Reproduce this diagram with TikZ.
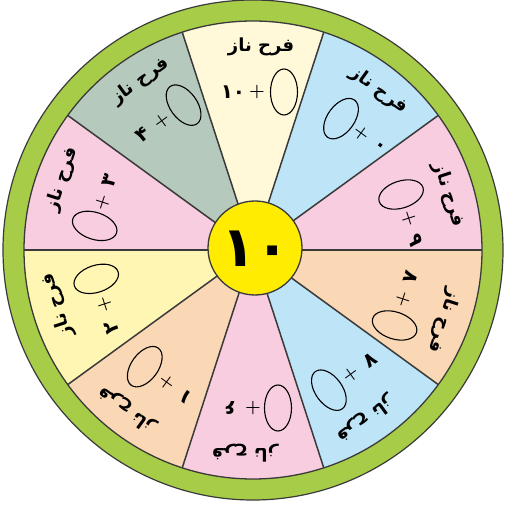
\documentclass[tikz,border=0pt]{standalone}
\usepackage{fontspec}
\usetikzlibrary{shapes.geometric}
\newfontfamily\arabicfont[Script=Arabic]{DejaVu Sans}
\TeXXeTstate=1
\definecolor{rimgreen}{HTML}{A7CD48}
\definecolor{cream}{HTML}{FFF9D9}
\definecolor{skyb}{HTML}{BEE4F8}
\definecolor{pinkc}{HTML}{F8CDE0}
\definecolor{peach}{HTML}{FBD8B5}
\definecolor{yellowp}{HTML}{FFF6B3}
\definecolor{grayg}{HTML}{B6C9BD}
\definecolor{hubyellow}{HTML}{FFEC00}
\definecolor{linegray}{HTML}{3A3A3A}
\tikzset{
  divider/.style={draw=linegray, line width=1.5pt},
  nametext/.style={font=\arabicfont\bfseries\fontsize{18}{18}\selectfont, inner sep=0pt},
  digittext/.style={font=\arabicfont\bfseries\fontsize{20}{20}\selectfont, inner sep=0pt},
  plustext/.style={font=\bfseries\fontsize{18}{18}\selectfont, inner sep=0pt},
  oval/.style={ellipse, draw=black, line width=1.1pt, minimum width=27pt, minimum height=46pt, inner sep=0pt},
}
\begin{document}
\begin{tikzpicture}[x=1pt,y=1pt]
\useasboundingbox (-253,-255) rectangle (252,250);
\fill[white] (-253,-255) rectangle (252,250);
% rim
\draw[fill=rimgreen, draw=linegray, line width=1.2pt] (0,0) circle (250);
% sectors
\foreach \a/\col in {90/cream,54/skyb,18/pinkc,-18/peach,-54/skyb,-90/pinkc,-126/peach,-162/yellowp,162/pinkc,126/grayg}{
  \fill[\col] (0,0) -- (\a-18:229) arc[start angle=\a-18, end angle=\a+18, radius=229] -- cycle;
}
\foreach \b in {0,36,...,324}{
  \coordinate (rimpt\b) at (\b:229);
  \draw[divider] (0,0) -- (rimpt\b);
}
\draw[draw=linegray, line width=1.3pt] (0,0) circle (229);
% sector texts
\foreach \a/\d/\o/\s [count=\i] in {90/۱۰/0/4, 54/۰/1/19, 18/۹/1/18, -18/۸/0/1, -54/۷/0/-6, -90/۶/1/0, -126/۱/0/-8, -162/۲/0/-6, 162/۳/1/-1, 126/۴/0/2}{
  \pgfmathsetmacro{\xn}{ifthenelse(\o==0, \s-24, \s+23)}
  \pgfmathsetmacro{\xo}{ifthenelse(\o==0, \s+27, \s-25)}
  \pgfmathsetmacro{\rot}{\a-90}
  \begin{scope}[rotate=\rot]
    \node[nametext, rotate=\rot] (name\i) at (8,203) {\beginR فرح ناز\endR};
    \node[digittext, rotate=\rot] (num\i) at (\xn,158) {\d};
    \node[plustext, rotate=\rot] (plus\i) at (\s,158) {+};
    \node[oval, rotate=\rot] (oval\i) at (\xo,158) {};
  \end{scope}
}
% hub
\node[circle, fill=hubyellow, draw=linegray, line width=1.3pt, minimum size=94pt, inner sep=0pt] (hub) at (2,2) {};
\node[font=\arabicfont\bfseries\fontsize{56}{56}\selectfont, inner sep=0pt] (hubnum) at (3,1) {۱۰};
\end{tikzpicture}
\end{document}
